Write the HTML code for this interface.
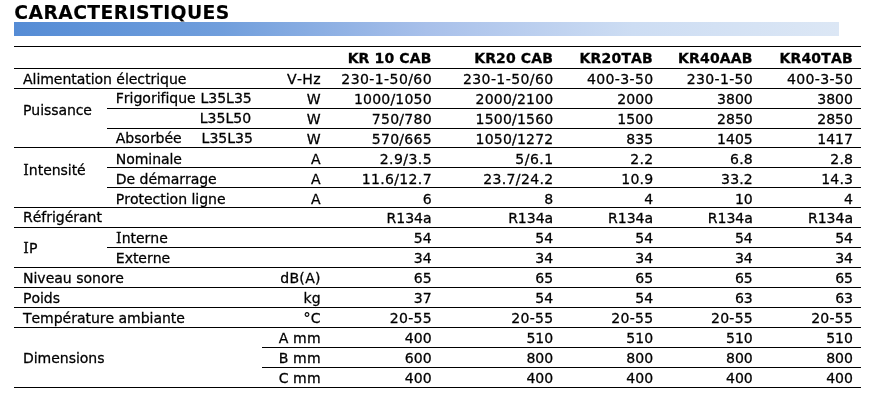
<!DOCTYPE html>
<html lang="fr"><head><meta charset="utf-8"><title>Caractéristiques</title>
<style>
html,body{margin:0;padding:0;background:#fff;}
body{width:874px;height:402px;position:relative;overflow:hidden;font-family:"DejaVu Sans","Liberation Sans",sans-serif;color:#000;font-variant-ligatures:none;font-kerning:none;}
.t{position:absolute;white-space:pre;line-height:20px;height:20px;font-size:14.06px;-webkit-text-stroke:0.27px #000;}
.r{text-align:right;}
.b{font-weight:bold;font-size:14px;-webkit-text-stroke:0.3px #000;}
.fi::first-letter{font-family:"DejaVu Serif","Liberation Serif",serif;margin:0 .013em;}
.ln{position:absolute;height:1px;background:#000;}
h1{position:absolute;left:14.3px;top:1px;margin:0;font-size:18.8px;line-height:24px;height:24px;font-weight:bold;white-space:nowrap;-webkit-text-stroke:0.12px #000;letter-spacing:0.021em;}
.bar{position:absolute;left:14px;top:22px;width:825px;height:14px;background:linear-gradient(90deg,#558cd5 0%,#709edc 25%,#a8c0ea 50%,#cdddf3 75%,#dce7f5 100%);}
</style></head><body>

<h1>CARACTERISTIQUES</h1>
<div class="bar"></div>
<div class="ln" style="left:14px;top:46px;width:847px"></div>
<div class="ln" style="left:14px;top:68px;width:847px"></div>
<div class="t r b" style="right:442.57px;top:48px;letter-spacing:0.13px">KR 10 CAB</div>
<div class="t r b" style="right:320.96px;top:48px;letter-spacing:0.14px">KR20 CAB</div>
<div class="t r b" style="right:221.02px;top:48px;letter-spacing:0.18px">KR20TAB</div>
<div class="t r b" style="right:121.32px;top:48px;letter-spacing:0.18px">KR40AAB</div>
<div class="t r b" style="right:21.12px;top:48px;letter-spacing:0.18px">KR40TAB</div>
<div class="t" style="left:23px;top:69px;letter-spacing:-0.06px">Alimentation électrique</div>
<div class="t r" style="right:553.08px;top:69px;letter-spacing:0.32px">V-Hz</div>
<div class="t r" style="right:442.01px;top:69px;letter-spacing:0.39px">230-1-50/60</div>
<div class="t r" style="right:320.41px;top:69px;letter-spacing:0.39px">230-1-50/60</div>
<div class="t r" style="right:220.57px;top:69px;letter-spacing:0.33px">400-3-50</div>
<div class="t r" style="right:120.87px;top:69px;letter-spacing:0.33px">230-1-50</div>
<div class="t r" style="right:20.67px;top:69px;letter-spacing:0.33px">400-3-50</div>
<div class="ln" style="left:14px;top:88px;width:847px"></div>
<div class="t" style="left:115.8px;top:88px;letter-spacing:-0.03px">Frigorifique</div>
<div class="t" style="left:200.4px;top:88px">L35L35</div>
<div class="t r" style="right:553.4px;top:89px">W</div>
<div class="t r" style="right:442.22px;top:89px;letter-spacing:0.18px">1000/1050</div>
<div class="t r" style="right:320.62px;top:89px;letter-spacing:0.18px">2000/2100</div>
<div class="t r" style="right:220.9px;top:89px">2000</div>
<div class="t r" style="right:121.2px;top:89px">3800</div>
<div class="t r" style="right:21px;top:89px">3800</div>
<div class="ln" style="left:107px;top:108px;width:754px"></div>
<div class="t" style="left:23px;top:100px;letter-spacing:-0.10px">Puissance</div>
<div class="t" style="left:199.7px;top:108px">L35L50</div>
<div class="t r" style="right:553.4px;top:109px">W</div>
<div class="t r" style="right:442.16px;top:109px;letter-spacing:0.24px">750/780</div>
<div class="t r" style="right:320.62px;top:109px;letter-spacing:0.18px">1500/1560</div>
<div class="t r" style="right:220.9px;top:109px">1500</div>
<div class="t r" style="right:121.2px;top:109px">2850</div>
<div class="t r" style="right:21px;top:109px">2850</div>
<div class="ln" style="left:107px;top:128px;width:754px"></div>
<div class="t" style="left:115.8px;top:128px;letter-spacing:-0.09px">Absorbée</div>
<div class="t" style="left:201.6px;top:128px">L35L35</div>
<div class="t r" style="right:553.4px;top:129px">W</div>
<div class="t r" style="right:442.16px;top:129px;letter-spacing:0.24px">570/665</div>
<div class="t r" style="right:320.62px;top:129px;letter-spacing:0.18px">1050/1272</div>
<div class="t r" style="right:220.9px;top:129px">835</div>
<div class="t r" style="right:121.2px;top:129px">1405</div>
<div class="t r" style="right:21px;top:129px">1417</div>
<div class="ln" style="left:14px;top:147px;width:847px"></div>
<div class="t" style="left:115.8px;top:149px;letter-spacing:-0.08px">Nominale</div>
<div class="t r" style="right:553.4px;top:149px">A</div>
<div class="t r" style="right:441.98px;top:149px;letter-spacing:0.42px">2.9/3.5</div>
<div class="t r" style="right:320.34px;top:149px;letter-spacing:0.46px">5/6.1</div>
<div class="t r" style="right:220.68px;top:149px;letter-spacing:0.22px">2.2</div>
<div class="t r" style="right:120.98px;top:149px;letter-spacing:0.22px">6.8</div>
<div class="t r" style="right:20.78px;top:149px;letter-spacing:0.22px">2.8</div>
<div class="ln" style="left:107px;top:167px;width:754px"></div>
<div class="t fi" style="left:23px;top:160px;letter-spacing:-0.06px">Intensité</div>
<div class="t" style="left:115.8px;top:169px;letter-spacing:-0.05px">De démarrage</div>
<div class="t r" style="right:553.4px;top:169px">A</div>
<div class="t r" style="right:442.07px;top:169px;letter-spacing:0.33px">11.6/12.7</div>
<div class="t r" style="right:320.47px;top:169px;letter-spacing:0.33px">23.7/24.2</div>
<div class="t r" style="right:220.74px;top:169px;letter-spacing:0.16px">10.9</div>
<div class="t r" style="right:121.04px;top:169px;letter-spacing:0.16px">33.2</div>
<div class="t r" style="right:20.84px;top:169px;letter-spacing:0.16px">14.3</div>
<div class="ln" style="left:107px;top:187px;width:754px"></div>
<div class="t" style="left:115.8px;top:189px;letter-spacing:-0.04px">Protection ligne</div>
<div class="t r" style="right:553.4px;top:189px">A</div>
<div class="t r" style="right:442.4px;top:189px">6</div>
<div class="t r" style="right:320.8px;top:189px">8</div>
<div class="t r" style="right:220.9px;top:189px">4</div>
<div class="t r" style="right:121.2px;top:189px">10</div>
<div class="t r" style="right:21px;top:189px">4</div>
<div class="ln" style="left:14px;top:207px;width:847px"></div>
<div class="t" style="left:23px;top:207px;letter-spacing:-0.04px">Réfrigérant</div>
<div class="t r" style="right:442.43px;top:208px;letter-spacing:-0.03px">R134a</div>
<div class="t r" style="right:320.83px;top:208px;letter-spacing:-0.03px">R134a</div>
<div class="t r" style="right:220.93px;top:208px;letter-spacing:-0.03px">R134a</div>
<div class="t r" style="right:121.23px;top:208px;letter-spacing:-0.03px">R134a</div>
<div class="t r" style="right:21.03px;top:208px;letter-spacing:-0.03px">R134a</div>
<div class="ln" style="left:14px;top:227px;width:847px"></div>
<div class="t fi" style="left:23px;top:238px">IP</div>
<div class="t fi" style="left:115.8px;top:228px;letter-spacing:-0.04px">Interne</div>
<div class="t r" style="right:442.4px;top:228px">54</div>
<div class="t r" style="right:320.8px;top:228px">54</div>
<div class="t r" style="right:220.9px;top:228px">54</div>
<div class="t r" style="right:121.2px;top:228px">54</div>
<div class="t r" style="right:21px;top:228px">54</div>
<div class="ln" style="left:107px;top:247px;width:754px"></div>
<div class="t" style="left:115.8px;top:248px;letter-spacing:-0.04px">Externe</div>
<div class="t r" style="right:442.4px;top:248px">34</div>
<div class="t r" style="right:320.8px;top:248px">34</div>
<div class="t r" style="right:220.9px;top:248px">34</div>
<div class="t r" style="right:121.2px;top:248px">34</div>
<div class="t r" style="right:21px;top:248px">34</div>
<div class="ln" style="left:14px;top:267px;width:847px"></div>
<div class="t" style="left:23px;top:268px;letter-spacing:-0.02px">Niveau sonore</div>
<div class="t r" style="right:553.07px;top:268px;letter-spacing:0.33px">dB(A)</div>
<div class="t r" style="right:442.4px;top:268px">65</div>
<div class="t r" style="right:320.8px;top:268px">65</div>
<div class="t r" style="right:220.9px;top:268px">65</div>
<div class="t r" style="right:121.2px;top:268px">65</div>
<div class="t r" style="right:21px;top:268px">65</div>
<div class="ln" style="left:14px;top:287px;width:847px"></div>
<div class="t" style="left:23px;top:288px;letter-spacing:-0.06px">Poids</div>
<div class="t r" style="right:553.39px;top:288px;letter-spacing:0.01px">kg</div>
<div class="t r" style="right:442.4px;top:288px">37</div>
<div class="t r" style="right:320.8px;top:288px">54</div>
<div class="t r" style="right:220.9px;top:288px">54</div>
<div class="t r" style="right:121.2px;top:288px">63</div>
<div class="t r" style="right:21px;top:288px">63</div>
<div class="ln" style="left:14px;top:307px;width:847px"></div>
<div class="t" style="left:23px;top:308px;letter-spacing:-0.05px">Température ambiante</div>
<div class="t r" style="right:553.1px;top:308px;letter-spacing:0.30px">°C</div>
<div class="t r" style="right:442.14px;top:308px;letter-spacing:0.26px">20-55</div>
<div class="t r" style="right:320.54px;top:308px;letter-spacing:0.26px">20-55</div>
<div class="t r" style="right:220.64px;top:308px;letter-spacing:0.26px">20-55</div>
<div class="t r" style="right:120.94px;top:308px;letter-spacing:0.26px">20-55</div>
<div class="t r" style="right:20.74px;top:308px;letter-spacing:0.26px">20-55</div>
<div class="ln" style="left:14px;top:327px;width:847px"></div>
<div class="t r" style="right:553.29px;top:328px;letter-spacing:0.11px">A mm</div>
<div class="t r" style="right:442.4px;top:328px">400</div>
<div class="t r" style="right:320.8px;top:328px">510</div>
<div class="t r" style="right:220.9px;top:328px">510</div>
<div class="t r" style="right:121.2px;top:328px">510</div>
<div class="t r" style="right:21px;top:328px">510</div>
<div class="ln" style="left:262px;top:347px;width:599px"></div>
<div class="t" style="left:23px;top:348px;letter-spacing:-0.05px">Dimensions</div>
<div class="t r" style="right:553.29px;top:348px;letter-spacing:0.11px">B mm</div>
<div class="t r" style="right:442.4px;top:348px">600</div>
<div class="t r" style="right:320.8px;top:348px">800</div>
<div class="t r" style="right:220.9px;top:348px">800</div>
<div class="t r" style="right:121.2px;top:348px">800</div>
<div class="t r" style="right:21px;top:348px">800</div>
<div class="ln" style="left:262px;top:367px;width:599px"></div>
<div class="t r" style="right:553.29px;top:368px;letter-spacing:0.11px">C mm</div>
<div class="t r" style="right:442.4px;top:368px">400</div>
<div class="t r" style="right:320.8px;top:368px">400</div>
<div class="t r" style="right:220.9px;top:368px">400</div>
<div class="t r" style="right:121.2px;top:368px">400</div>
<div class="t r" style="right:21px;top:368px">400</div>
<div class="ln" style="left:14px;top:387px;width:847px"></div>
</body></html>
